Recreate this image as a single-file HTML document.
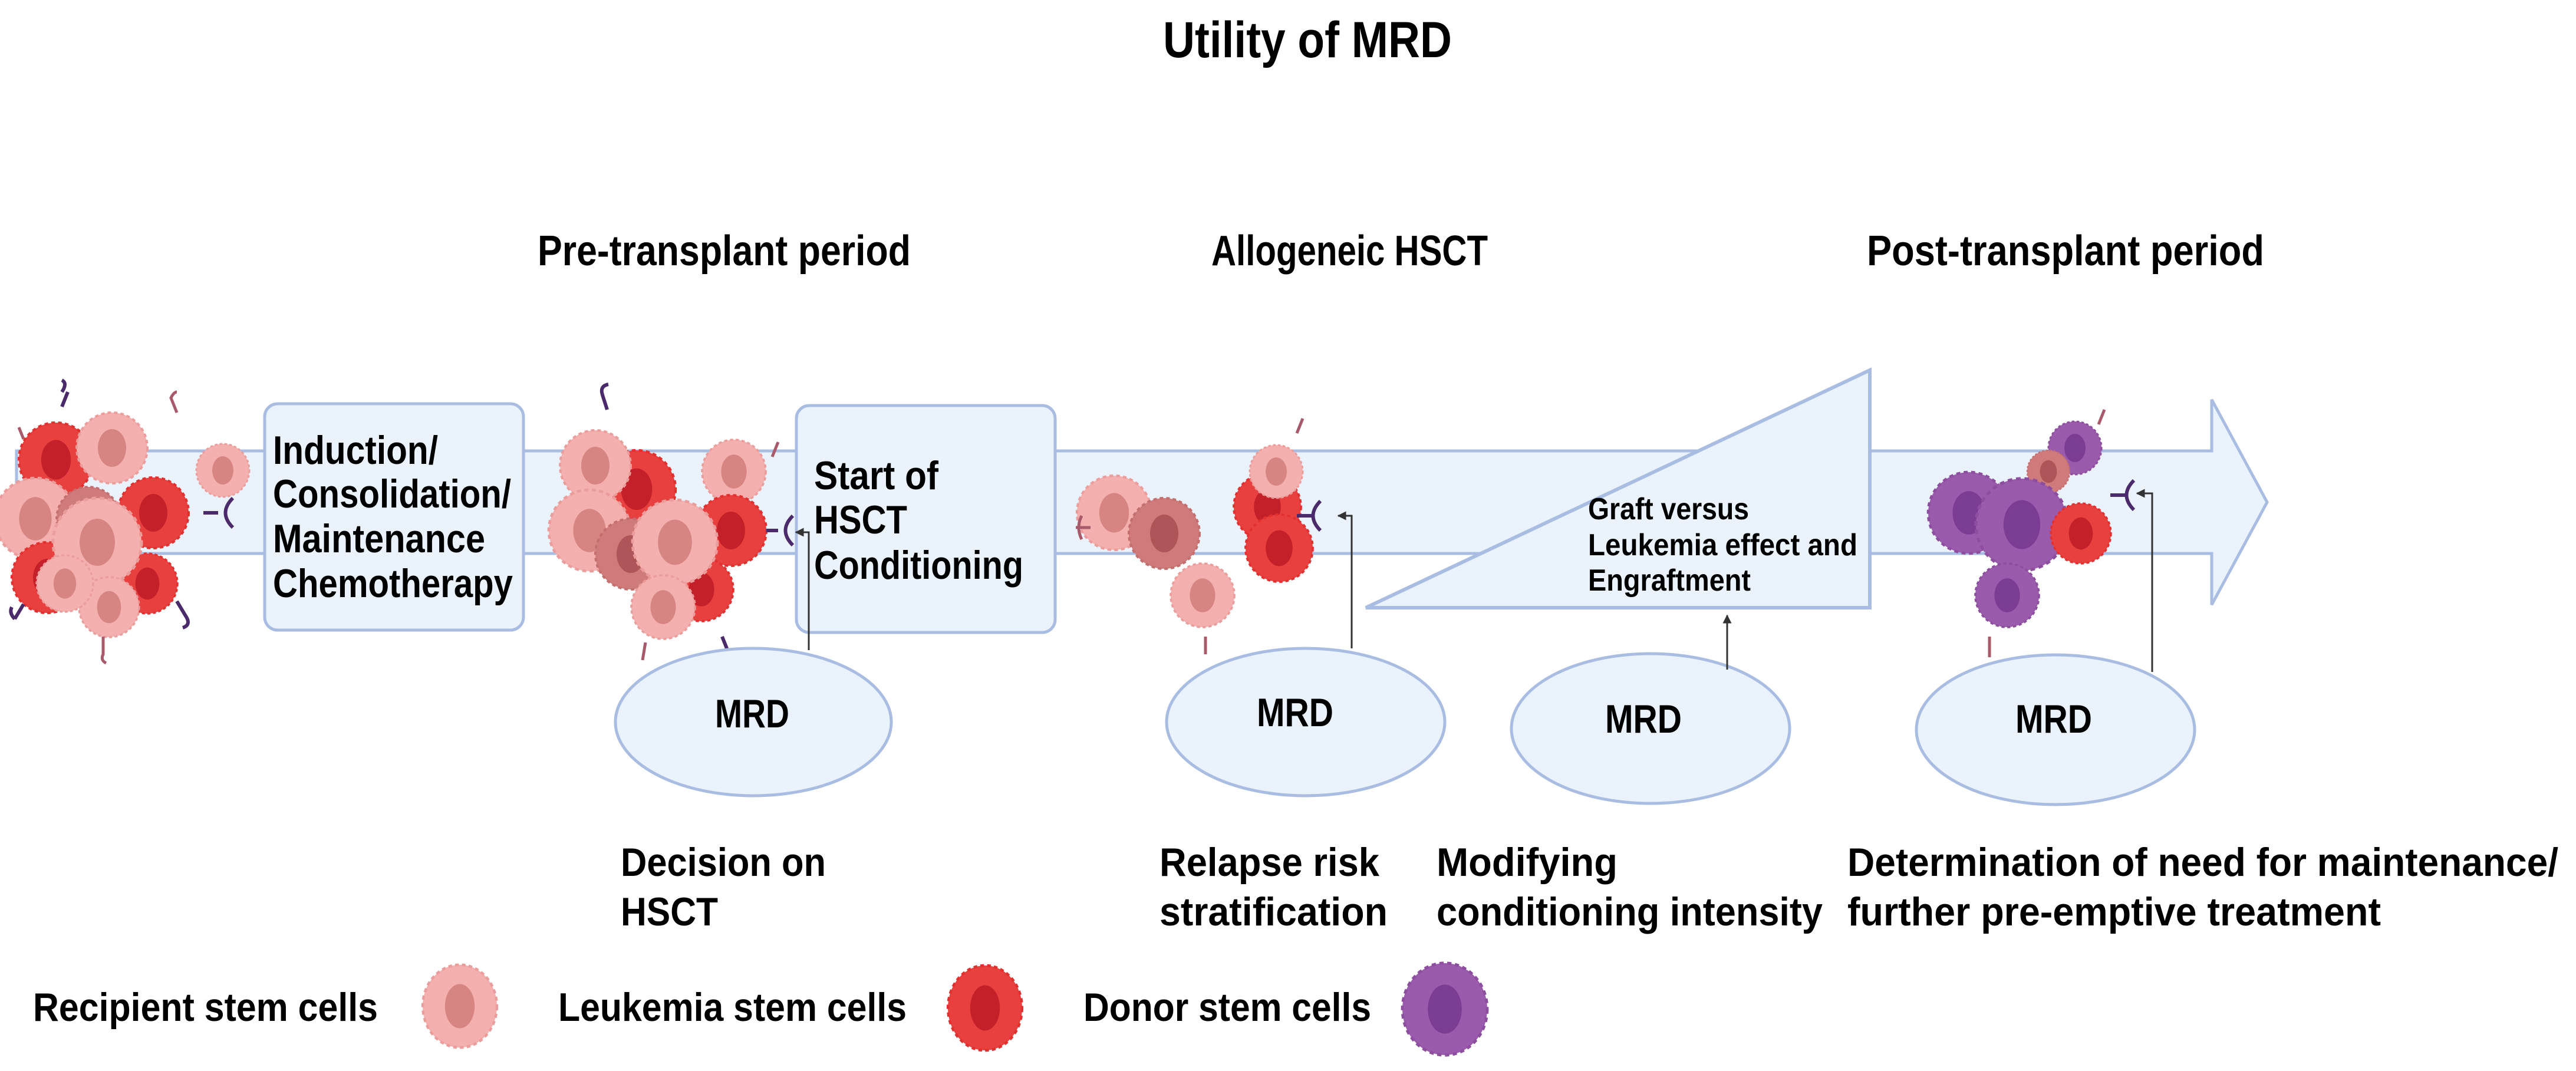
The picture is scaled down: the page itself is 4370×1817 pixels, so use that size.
<!DOCTYPE html>
<html><head><meta charset="utf-8"><style>
html,body{margin:0;padding:0;background:#fff;}
svg{display:block;}
text{font-family:"Liberation Sans",sans-serif;font-weight:bold;fill:#000;}
</style></head><body>
<svg width="4370" height="1817" viewBox="0 0 4370 1817" xmlns="http://www.w3.org/2000/svg">
<defs>
<g id="rc"><circle r="60" fill="#f4b0ae" stroke="#eb9d9b" stroke-width="4" stroke-dasharray="6 5"/><ellipse rx="24" ry="32" fill="#d68583"/></g>
<g id="lc"><circle r="60" fill="#e8403f" stroke="#e2302f" stroke-width="4" stroke-dasharray="6 5"/><ellipse rx="24" ry="32" fill="#c4202a"/></g>
<g id="dp"><circle r="60" fill="#cf7b7b" stroke="#c46e6e" stroke-width="4" stroke-dasharray="6 5"/><ellipse rx="24" ry="32" fill="#ad5559"/></g>
<g id="dc"><circle r="60" fill="#9a5bac" stroke="#8d4ea0" stroke-width="4" stroke-dasharray="6 5"/><ellipse rx="24" ry="32" fill="#7a3d93"/></g>
<marker id="ah" viewBox="0 0 10 10" refX="9" refY="5" markerWidth="5" markerHeight="5" orient="auto"><path d="M0,0 L10,5 L0,10 z" fill="#333"/></marker>
</defs>

<!-- main band arrow -->
<path d="M28,765 L3752,765 L3752,678 L3846,852 L3752,1026 L3752,939 L28,939 Z" fill="#eaf3fc" stroke="#a9bde3" stroke-width="5"/>
<!-- triangle -->
<path d="M2317,1031 L3172,628 L3172,1031 Z" fill="#eaf3fc" stroke="#a9bde3" stroke-width="6"/>
<!-- boxes -->
<rect x="449" y="685" width="439" height="384" rx="22" fill="#eaf3fc" stroke="#a9bde3" stroke-width="5"/>
<rect x="1351" y="688" width="439" height="385" rx="22" fill="#eaf3fc" stroke="#a9bde3" stroke-width="5"/>

<!-- cluster 1 -->
<use href="#rc" transform="translate(378,798) scale(0.75)"/>
<use href="#lc" transform="translate(95,780) scale(1.05)"/>
<use href="#rc" transform="translate(190,760) scale(1.0)"/>
<use href="#rc" transform="translate(60,880) scale(1.15)"/>
<use href="#dp" transform="translate(150,880) scale(0.9)"/>
<use href="#lc" transform="translate(260,870) scale(1.0)"/>
<use href="#lc" transform="translate(80,980) scale(1.0)"/>
<use href="#lc" transform="translate(250,990) scale(0.85)"/>
<use href="#rc" transform="translate(165,920) scale(1.25)"/>
<use href="#rc" transform="translate(185,1030) scale(0.85)"/>
<use href="#rc" transform="translate(110,990) scale(0.8)"/>

<!-- cluster 2 -->
<use href="#lc" transform="translate(1080,830) scale(1.1)"/>
<use href="#rc" transform="translate(1010,790) scale(1.0)"/>
<use href="#rc" transform="translate(1000,900) scale(1.15)"/>
<use href="#dp" transform="translate(1070,940) scale(1.0)"/>
<use href="#rc" transform="translate(1245,800) scale(0.9)"/>
<use href="#lc" transform="translate(1240,900) scale(1.0)"/>
<use href="#lc" transform="translate(1190,1000) scale(0.9)"/>
<use href="#rc" transform="translate(1145,920) scale(1.2)"/>
<use href="#rc" transform="translate(1125,1030) scale(0.9)"/>

<!-- cluster 3 -->
<use href="#rc" transform="translate(1890,870) scale(1.05)"/>
<use href="#dp" transform="translate(1975,905) scale(1.0)"/>
<use href="#rc" transform="translate(2040,1010) scale(0.9)"/>
<use href="#lc" transform="translate(2150,860) scale(0.95)"/>
<use href="#lc" transform="translate(2170,930) scale(0.95)"/>
<use href="#rc" transform="translate(2165,800) scale(0.75)"/>

<!-- cluster 4 -->
<use href="#dc" transform="translate(3520,760) scale(0.75)"/>
<use href="#dp" transform="translate(3475,800) scale(0.6)"/>
<use href="#dc" transform="translate(3340,870) scale(1.15)"/>
<use href="#dc" transform="translate(3430,890) scale(1.3)"/>
<use href="#lc" transform="translate(3530,905) scale(0.85)"/>
<use href="#dc" transform="translate(3405,1010) scale(0.9)"/>

<!-- receptors -->
<g fill="none" stroke="#4b2a6b" stroke-width="6">
<path d="M345,870 h25 M395,845 q-25,25 0,50"/>
<path d="M1300,900 h20 M1345,875 q-25,25 0,50"/>
<path d="M2200,875 h25 M2240,850 q-25,25 0,50"/>
<path d="M3580,840 h25 M3620,815 q-25,25 0,50"/>
<path d="M105,690 l10,-25 M105,665 q10,-15 0,-20"/>
<path d="M25,1050 l15,-25 M25,1050 q-10,-10 -5,-20"/>
<path d="M300,1020 l15,25 q10,15 -5,20"/>
<path d="M1030,695 l-8,-25 q-5,-15 10,-18"/>
<path d="M1225,1080 l10,25 q5,15 -10,18"/>
</g>
<g fill="none" stroke="#a85a6a" stroke-width="5">
<path d="M300,700 l-10,-25 q5,-10 10,-10"/>
<path d="M175,1080 l0,30 q-5,10 5,15"/>
<path d="M1090,1120 l5,-30"/>
<path d="M1310,775 l10,-25"/>
<path d="M1850,895 h-25 M1835,875 q-10,20 0,40"/>
<path d="M2045,1080 v30"/>
<path d="M2200,735 l10,-25"/>
<path d="M3560,720 l10,-25"/>
<path d="M3375,1080 v35"/>
<path d="M40,745 l-8,-20"/>
</g>

<!-- ellipses -->
<ellipse cx="1278" cy="1225" rx="234" ry="125" fill="#eaf3fc" stroke="#a9bde3" stroke-width="5"/>
<ellipse cx="2215" cy="1225" rx="236" ry="125" fill="#eaf3fc" stroke="#a9bde3" stroke-width="5"/>
<ellipse cx="2800" cy="1236" rx="236" ry="127" fill="#eaf3fc" stroke="#a9bde3" stroke-width="5"/>
<ellipse cx="3487" cy="1238" rx="236" ry="127" fill="#eaf3fc" stroke="#a9bde3" stroke-width="5"/>

<!-- connectors -->
<g fill="none" stroke="#333" stroke-width="3">
<path d="M1372,1103 V903 H1350" marker-end="url(#ah)"/>
<path d="M2293,1100 V875 H2270" marker-end="url(#ah)"/>
<path d="M2930,1136 V1044" marker-end="url(#ah)"/>
<path d="M3651,1140 V837 H3625" marker-end="url(#ah)"/>
</g>

<!-- titles -->
<text x="1973" y="97" font-size="86" textLength="490" lengthAdjust="spacingAndGlyphs">Utility of MRD</text>
<text x="912" y="450" font-size="72" textLength="633" lengthAdjust="spacingAndGlyphs">Pre-transplant period</text>
<text x="2055" y="450" font-size="72" textLength="469" lengthAdjust="spacingAndGlyphs">Allogeneic HSCT</text>
<text x="3167" y="450" font-size="72" textLength="674" lengthAdjust="spacingAndGlyphs">Post-transplant period</text>

<!-- box text -->
<g font-size="68">
<text x="463" y="787" textLength="280" lengthAdjust="spacingAndGlyphs">Induction/</text>
<text x="463" y="861" textLength="404" lengthAdjust="spacingAndGlyphs">Consolidation/</text>
<text x="463" y="937" textLength="360" lengthAdjust="spacingAndGlyphs">Maintenance</text>
<text x="463" y="1013" textLength="407" lengthAdjust="spacingAndGlyphs">Chemotherapy</text>
<text x="1381" y="830" textLength="211" lengthAdjust="spacingAndGlyphs">Start of</text>
<text x="1381" y="905" textLength="158" lengthAdjust="spacingAndGlyphs">HSCT</text>
<text x="1381" y="982" textLength="355" lengthAdjust="spacingAndGlyphs">Conditioning</text>
</g>
<g font-size="52">
<text x="2694" y="881" textLength="273" lengthAdjust="spacingAndGlyphs">Graft versus</text>
<text x="2694" y="942" textLength="457" lengthAdjust="spacingAndGlyphs">Leukemia effect and</text>
<text x="2694" y="1002" textLength="276" lengthAdjust="spacingAndGlyphs">Engraftment</text>
</g>

<!-- MRD -->
<g font-size="68">
<text x="1213" y="1234" textLength="126" lengthAdjust="spacingAndGlyphs">MRD</text>
<text x="2132" y="1232" textLength="130" lengthAdjust="spacingAndGlyphs">MRD</text>
<text x="2723" y="1243" textLength="130" lengthAdjust="spacingAndGlyphs">MRD</text>
<text x="3419" y="1243" textLength="130" lengthAdjust="spacingAndGlyphs">MRD</text>
</g>

<!-- bottom labels -->
<g font-size="68">
<text x="1053" y="1486" textLength="348" lengthAdjust="spacingAndGlyphs">Decision on</text>
<text x="1053" y="1570" textLength="165" lengthAdjust="spacingAndGlyphs">HSCT</text>
<text x="1967" y="1486" textLength="373" lengthAdjust="spacingAndGlyphs">Relapse risk</text>
<text x="1967" y="1570" textLength="387" lengthAdjust="spacingAndGlyphs">stratification</text>
<text x="2437" y="1486" textLength="307" lengthAdjust="spacingAndGlyphs">Modifying</text>
<text x="2437" y="1570" textLength="655" lengthAdjust="spacingAndGlyphs">conditioning intensity</text>
<text x="3134" y="1486" textLength="1206" lengthAdjust="spacingAndGlyphs">Determination of need for maintenance/</text>
<text x="3134" y="1570" textLength="905" lengthAdjust="spacingAndGlyphs">further pre-emptive treatment</text>
</g>

<!-- legend -->
<g font-size="68">
<text x="56" y="1732" textLength="585" lengthAdjust="spacingAndGlyphs">Recipient stem cells</text>
<text x="947" y="1732" textLength="591" lengthAdjust="spacingAndGlyphs">Leukemia stem cells</text>
<text x="1838" y="1732" textLength="488" lengthAdjust="spacingAndGlyphs">Donor stem cells</text>
</g>
<use href="#rc" transform="translate(780,1707) scale(1.05,1.17)"/>
<use href="#lc" transform="translate(1671,1710) scale(1.05,1.2)"/>
<use href="#dc" transform="translate(2451,1712) scale(1.2,1.3)"/>
</svg>
</body></html>
